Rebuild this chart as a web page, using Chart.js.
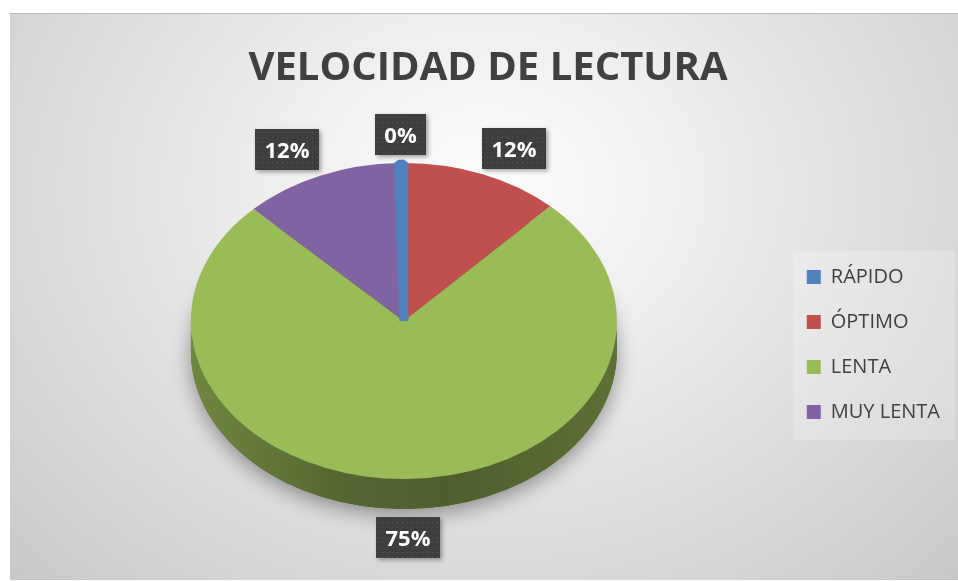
<!DOCTYPE html>
<html><head><meta charset="utf-8">
<script src="https://cdn.jsdelivr.net/npm/chart.js@4.4.1/dist/chart.umd.min.js"></script>
<style>
html,body{margin:0;padding:0;background:#fff;width:958px;height:581px;overflow:hidden}
#bg{position:absolute;left:10px;top:13px;width:948px;height:567px;box-sizing:border-box;border-top:1px solid #bcbcbc;
 background:radial-gradient(farthest-corner at 50% 31%, #fdfdfd 0%, #efefef 30%, #c8c8c8 100%)}
#wrap{position:absolute;left:0;top:0;width:958px;height:581px}
</style></head><body>
<div id="bg"></div>
<div id="wrap"><canvas id="c" width="958" height="581"></canvas></div>
<script>
// ---- data ----
const chartTitle = 'VELOCIDAD DE LECTURA';
const categories = ['RÁPIDO', 'ÓPTIMO', 'LENTA', 'MUY LENTA'];
const values = [0.4, 12, 75, 12];

// ---- styles ----
const sliceColors = ['#4F81BD', '#C0504D', '#9BBB59', '#8064A2'];
const sliceBorders = [9, 0, 0, 0];
const TILT = 0.742;      // vertical squash of the pie
const CENTER_Y = 321;    // on-screen centre of the tilted pie
const DEPTH = 30;        // thickness of the pie
const FONT = '"Open Sans", "Liberation Sans", sans-serif';

function shade(hex, f) {
  const n = parseInt(hex.slice(1), 16);
  const r = Math.round(((n >> 16) & 255) * f), g = Math.round(((n >> 8) & 255) * f), b = Math.round((n & 255) * f);
  return `rgb(${r},${g},${b})`;
}

// dotted dark pattern for data label boxes
const tile = document.createElement('canvas');
tile.width = 5; tile.height = 5;
const tctx = tile.getContext('2d');
tctx.fillStyle = '#3e3e3e'; tctx.fillRect(0, 0, 5, 5);
tctx.fillStyle = '#565656'; tctx.fillRect(2, 2, 1, 1);

const pie3d = {
  id: 'pie3d',
  beforeDraw(chart) {
    // soft panel behind legend
    const lg = chart.legend;
    if (!lg || !lg.legendHitBoxes || !lg.legendHitBoxes.length) return;
    const hb = lg.legendHitBoxes;
    const ctx = chart.ctx;
    const top = hb[0].top - 16, bottom = hb[hb.length - 1].top + hb[hb.length - 1].height + 18;
    const left = hb[0].left - 14;
    ctx.save();
    ctx.fillStyle = 'rgba(255,255,255,0.22)';
    ctx.fillRect(left, top, 955 - left, bottom - top);
    ctx.restore();
  },
  beforeDatasetsDraw(chart) {
    const ctx = chart.ctx;
    const arcs = chart.getDatasetMeta(0).data;
    if (!arcs.length) return;
    const cx = arcs[0].x, cy = arcs[0].y, R = arcs[0].outerRadius, ry = R * TILT;
    // drop shadow beneath the pie
    ctx.save();
    ctx.beginPath();
    ctx.ellipse(cx, CENTER_Y + DEPTH, R, ry, 0, 0, Math.PI * 2);
    ctx.shadowColor = 'rgba(0,0,0,0.38)';
    ctx.shadowBlur = 20;
    ctx.shadowOffsetY = 6;
    ctx.fillStyle = '#4b6123';
    ctx.fill();
    ctx.restore();
    // side walls (front half only)
    arcs.forEach((a, i) => {
      for (const k of [-2 * Math.PI, 0, 2 * Math.PI]) {
        const s = Math.max(a.startAngle + k, 0), e = Math.min(a.endAngle + k, Math.PI);
        if (e > s) {
          ctx.save();
          ctx.beginPath();
          ctx.ellipse(cx, CENTER_Y, R, ry, 0, s, e);
          ctx.ellipse(cx, CENTER_Y + DEPTH, R, ry, 0, e, s, true);
          ctx.closePath();
          const g = ctx.createLinearGradient(cx - R, 0, cx + R, 0);
          const col = sliceColors[i];
          g.addColorStop(0, shade(col, 0.72));
          g.addColorStop(0.35, shade(col, 0.55));
          g.addColorStop(0.6, shade(col, 0.5));
          g.addColorStop(1, shade(col, 0.6));
          ctx.fillStyle = g;
          ctx.fill();
          ctx.restore();
        }
      }
    });
    ctx.save();
    ctx.translate(0, CENTER_Y);
    ctx.scale(1, TILT);
    ctx.translate(0, -cy);
  },
  afterDatasetsDraw(chart) {
    const ctx = chart.ctx;
    const arcs = chart.getDatasetMeta(0).data;
    if (arcs.length) {
      // redraw bordered (very thin) slices on top, clipped to the pie rim
      const cx0 = arcs[0].x, cy0 = arcs[0].y, R0 = arcs[0].outerRadius;
      arcs.forEach(a => {
        if (a.options && a.options.borderWidth > 0) {
          ctx.save();
          ctx.beginPath();
          ctx.arc(cx0, cy0, R0, 0, Math.PI * 2);
          ctx.clip();
          a.draw(ctx);
          ctx.restore();
        }
      });
    }
    ctx.restore();
    if (!arcs.length) return;
    const data = chart.data.datasets[0].data;
    const total = data.reduce((p, v) => p + v, 0);
    const cx = arcs[0].x, R = arcs[0].outerRadius, ry = R * TILT;
    const pattern = ctx.createPattern(tile, 'repeat');
    arcs.forEach((a, i) => {
      const m = (a.startAngle + a.endAngle) / 2;
      const c = Math.cos(m), s = Math.sin(m);
      const px = cx + R * c, py = CENTER_Y + ry * s + (s > 0 ? DEPTH : 0);
      const lx = px + c * 84, ly = py + s * 28;
      const text = Math.round(data[i] / total * 100) + '%';
      ctx.save();
      ctx.font = 'bold 22px ' + FONT;
      const w = Math.round(ctx.measureText(text).width + 19), h = 41;
      const x0 = Math.round(lx - w / 2), y0 = Math.round(ly - h / 2);
      ctx.shadowColor = 'rgba(0,0,0,0.35)';
      ctx.shadowBlur = 4; ctx.shadowOffsetX = 2; ctx.shadowOffsetY = 2;
      ctx.fillStyle = pattern;
      ctx.fillRect(x0, y0, w, h);
      ctx.shadowColor = 'transparent';
      ctx.fillStyle = '#ffffff';
      ctx.textAlign = 'center';
      ctx.textBaseline = 'alphabetic';
      ctx.fillText(text, x0 + w / 2, y0 + h / 2 + 8);
      ctx.restore();
    });
  }
};

new Chart(document.getElementById('c'), {
  type: 'pie',
  data: {
    labels: categories,
    datasets: [{
      data: values,
      backgroundColor: sliceColors,
      borderColor: sliceColors,
      borderWidth: sliceBorders,
      radius: 213,
      clip: false
    }]
  },
  options: {
    responsive: false,
    animation: false,
    events: [],
    rotation: -values[0] / values.reduce((p, v) => p + v, 0) * 360,
    layout: { padding: { left: 26, right: 8, top: 0, bottom: 0 } },
    plugins: {
      title: {
        display: true,
        text: chartTitle,
        color: '#404040',
        font: { family: FONT, size: 40, weight: 'bold' },
        padding: { top: 45, bottom: 15 }
      },
      legend: {
        position: 'right',
        align: 'center',
        title: { display: true, text: ' ', font: { size: 1 }, padding: { top: 107, bottom: 0 } },
        labels: {
          boxWidth: 14, boxHeight: 14, padding: 25, color: '#404040',
          font: { family: FONT, size: 20 },
          generateLabels(chart) {
            const items = Chart.overrides.pie.plugins.legend.labels.generateLabels(chart);
            items.forEach(it => { it.lineWidth = 0; });
            return items;
          }
        }
      },
      tooltip: { enabled: false }
    }
  },
  plugins: [pie3d]
});
</script>
</body></html>
